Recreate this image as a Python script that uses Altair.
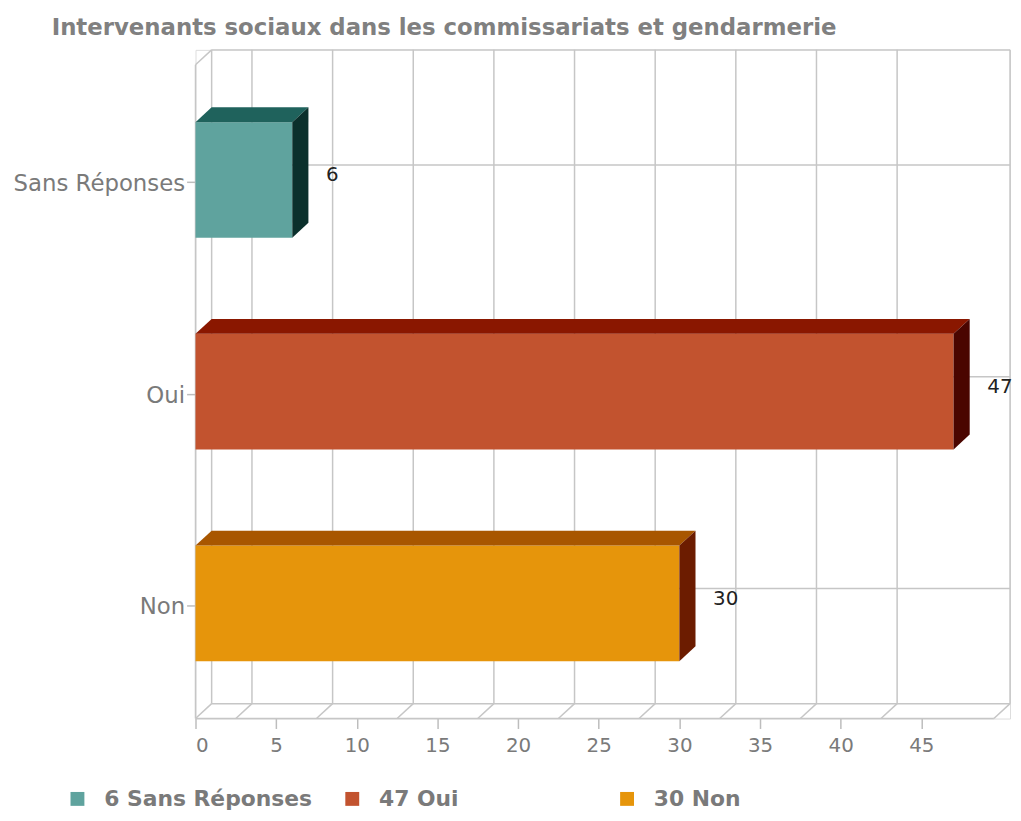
import altair as alt
import pandas as pd

# ---------------- data ----------------
TITLE = "Intervenants sociaux dans les commissariats et gendarmerie"
CATEGORIES = ["Sans Réponses", "Oui", "Non"]
VALUES = [6, 47, 30]
X_TICKS = [0, 5, 10, 15, 20, 25, 30, 35, 40, 45]
FRONT_COLORS = ["#5fa39e", "#c2532f", "#e6950b"]
TOP_COLORS = ["#1f625c", "#8a1700", "#a85600"]
SIDE_COLORS = ["#0b302c", "#4a0500", "#6c1c00"]

# ---------------- 3-D geometry (style) ----------------
DX = 1.0          # depth along the value axis (value units)
DY = 0.0703       # depth along the category axis (category units)
HALF = 0.273      # half bar thickness (category units)
FRONT_LO, FRONT_HI = -0.544, 2.544
X_FRONT_MAX = 49.5
X_MAX = X_FRONT_MAX + DX
BACK_LO, BACK_HI = FRONT_LO + DY, FRONT_HI + DY
GRID_STEP = 5
GRID_X = [GRID_STEP / 2 + GRID_STEP * k for k in range(9)]
LINE = "#c6c6c6"
FONT = "DejaVu Sans"

n = len(CATEGORIES)
POS = [n - 1 - i for i in range(n)]
LABELS = [f"{v} {c}" for v, c in zip(VALUES, CATEGORIES)]

bars = pd.DataFrame({
    "cat": CATEGORIES, "value": VALUES, "y": POS,
    "lo": [p - HALF for p in POS], "hi": [p + HALF for p in POS],
    "label": LABELS, "x0": [0] * n,
})

lines = []
for gx in [0] + GRID_X + [X_FRONT_MAX]:
    lines.append((gx + DX, gx + DX, BACK_LO, BACK_HI))          # back wall verticals
    lines.append((gx, gx + DX, FRONT_LO, BACK_LO))              # floor diagonals
lines.append((DX, X_MAX, BACK_HI, BACK_HI))                     # back wall top
lines.append((DX, X_MAX, BACK_LO, BACK_LO))                     # floor back edge
lines.append((0, X_FRONT_MAX, FRONT_LO, FRONT_LO))              # floor front edge
lines.append((0, 0, FRONT_LO, FRONT_HI))                        # front left edge
lines.append((0, DX, FRONT_HI, BACK_HI))                        # top-left bevel
for p in POS:
    lines.append((DX, X_MAX, p + DY, p + DY))                   # category grid
lines_df = pd.DataFrame(lines, columns=["x", "x2", "y", "y2"])

# ---------------- encodings ----------------
label_expr = "''"
for p, c in zip(POS, CATEGORIES):
    label_expr = f"datum.value == {p} ? '{c}' : ({label_expr})"

X_SCALE = alt.Scale(domain=[0, X_MAX], nice=False, zero=False)
Y_SCALE = alt.Scale(domain=[FRONT_LO, BACK_HI], nice=False, zero=False)
X_AXIS = alt.Axis(values=X_TICKS, tickSize=10, tickColor="#bdbdbd", tickWidth=1.5,
                  domain=False, grid=False, labelFontSize=20, labelColor="#7a7a7a",
                  labelFont=FONT, labelPadding=7, title=None)
Y_AXIS = alt.Axis(values=POS, labelExpr=label_expr, tickSize=9, tickColor="#bdbdbd",
                  tickWidth=1.5, domain=False, grid=False, labelFontSize=23,
                  labelColor="#7a7a7a", labelFont=FONT, labelPadding=2,
                  tickOffset=2, labelOffset=1.5, title=None)


def X(field):
    return alt.X(field, type="quantitative", scale=X_SCALE, axis=X_AXIS)


def Y(field):
    return alt.Y(field, type="quantitative", scale=Y_SCALE, axis=Y_AXIS, stack=None)


frame = alt.Chart(lines_df).mark_rule(color=LINE, strokeWidth=1.5).encode(
    x=X("x"), x2="x2", y=Y("y"), y2="y2")

front = alt.Chart(bars).mark_rect().encode(
    x=X("x0"), x2="value", y=Y("lo"), y2="hi",
    color=alt.Color("label:N", scale=alt.Scale(domain=LABELS, range=FRONT_COLORS),
                    legend=alt.Legend(orient="none", legendX=-130, legendY=744,
                                      direction="horizontal", columns=3, gridAlign="all",
                                      columnPadding=29, symbolType="square", symbolSize=196,
                                      symbolStrokeWidth=0, labelFontSize=22,
                                      labelFontWeight="bold", labelColor="#7a7a7a",
                                      labelFont=FONT, labelOffset=16, labelLimit=0,
                                      title=None, padding=0)))

faces = []
for c, v, p, col_t, col_s in zip(CATEGORIES, VALUES, POS, TOP_COLORS, SIDE_COLORS):
    hi, lo = p + HALF, p - HALF
    top_df = pd.DataFrame({
        "x": [0, DX, v, v + DX],
        "y": [hi, hi, hi, hi + DY],
        "y2": [hi, hi + DY, hi + DY, hi + DY],
    })
    side_df = pd.DataFrame({
        "x": [v, v + DX],
        "y": [lo, lo + DY],
        "y2": [hi, hi + DY],
    })
    faces.append(alt.Chart(top_df).mark_area(color=col_t, opacity=1).encode(
        x=X("x"), y=Y("y"), y2="y2"))
    faces.append(alt.Chart(side_df).mark_area(color=col_s, opacity=1).encode(
        x=X("x"), y=Y("y"), y2="y2"))

values_txt = alt.Chart(bars).mark_text(align="left", baseline="middle", dx=34, dy=-4.5,
                                       fontSize=20, font=FONT, color="#222222").encode(
    x=X("value"), y=Y("y"), text="value:Q")

chart = alt.layer(frame, front, *faces, values_txt).properties(
    width=821, height=674,
    autosize=alt.AutoSizeParams(type="none"),
    padding={"left": 189, "top": 39, "right": 3, "bottom": 92},
    title=alt.TitleParams(TITLE, anchor="start", frame="group", dx=-145, offset=9,
                          fontSize=23, font=FONT, fontWeight="bold", color="#808080"),
).configure_view(stroke=None).configure(background="white")

chart.save("out.html", embed_options={"renderer": "svg", "actions": False})
